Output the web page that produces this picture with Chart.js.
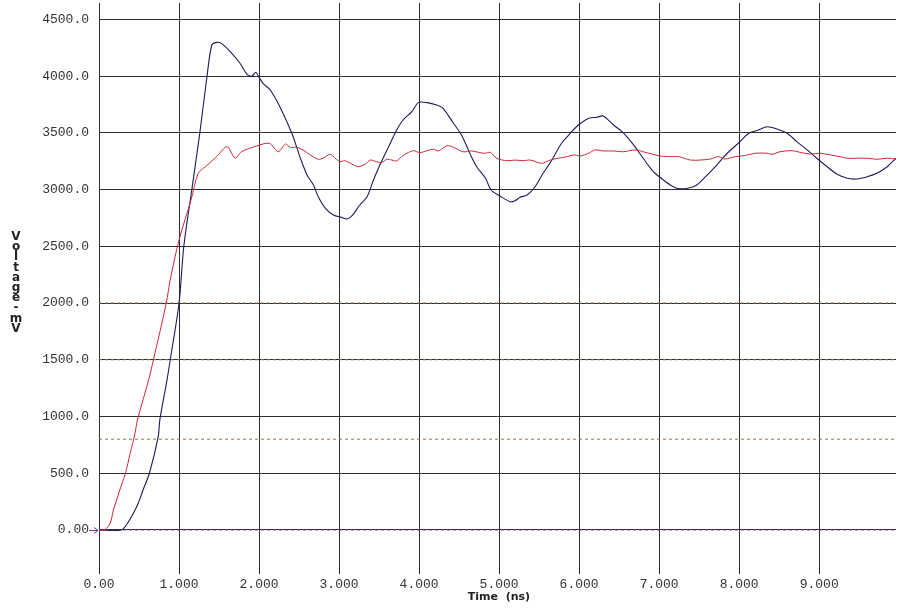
<!DOCTYPE html>
<html>
<head>
<meta charset="utf-8">
<script src="https://cdn.jsdelivr.net/npm/chart.js@4.4.1/dist/chart.umd.min.js"></script>
<style>
html,body{margin:0;padding:0;background:#fff;}
#wrap{position:relative;width:901px;height:608px;overflow:hidden;}
#c{position:absolute;left:0;top:0;}
#ytitle{position:absolute;left:9px;top:231px;width:14px;text-align:center;font-family:"DejaVu Sans",sans-serif;font-weight:bold;font-size:12px;line-height:10.2px;color:#222;}
#xtitle{position:absolute;left:399px;top:590px;width:200px;text-align:center;font-family:"DejaVu Sans",sans-serif;font-weight:bold;font-size:11px;color:#222;white-space:pre;}
</style>
</head>
<body>
<div id="wrap">
<canvas id="c" width="901" height="608"></canvas>
<div id="ytitle">V<br>o<br>l<br>t<br>a<br>g<br>e<br>-<br>m<br>V</div>
<div id="xtitle">Time  (ns)</div>
</div>
<script>
// ---- data (time in ns, voltage in mV) ----
const blueTime = [0, 0.28, 0.35, 0.43, 0.49, 0.55, 0.63, 0.74, 0.76, 0.85, 0.89, 1.00, 1.06, 1.16, 1.26, 1.35, 1.41, 1.47, 1.53, 1.64, 1.76, 1.85, 1.91, 1.96, 2.00, 2.05, 2.14, 2.26, 2.41, 2.51, 2.60, 2.68, 2.74, 2.83, 2.93, 3.03, 3.10, 3.16, 3.26, 3.35, 3.43, 3.51, 3.64, 3.72, 3.80, 3.91, 3.99, 4.10, 4.22, 4.30, 4.43, 4.53, 4.64, 4.72, 4.83, 4.90, 5.01, 5.14, 5.20, 5.26, 5.35, 5.45, 5.55, 5.66, 5.78, 5.89, 5.99, 6.12, 6.22, 6.30, 6.43, 6.55, 6.68, 6.80, 6.91, 7.01, 7.14, 7.24, 7.37, 7.47, 7.60, 7.72, 7.85, 7.99, 8.12, 8.24, 8.35, 8.47, 8.60, 8.72, 8.85, 8.97, 9.10, 9.22, 9.35, 9.47, 9.60, 9.72, 9.85, 9.96];
const blueVoltage = [0, 0, 53, 147, 235, 352, 500, 822, 969, 1322, 1498, 1998, 2500, 3000, 3500, 4000, 4274, 4297, 4288, 4215, 4115, 4015, 4000, 4033, 3989, 3936, 3877, 3730, 3496, 3290, 3128, 3040, 2937, 2835, 2776, 2755, 2741, 2767, 2864, 2937, 3084, 3216, 3408, 3525, 3613, 3686, 3766, 3766, 3745, 3716, 3584, 3481, 3310, 3201, 3099, 2996, 2943, 2893, 2902, 2932, 2952, 3025, 3143, 3260, 3408, 3496, 3569, 3628, 3637, 3648, 3569, 3501, 3393, 3276, 3172, 3108, 3040, 3008, 3014, 3040, 3128, 3216, 3320, 3408, 3496, 3525, 3554, 3534, 3496, 3422, 3349, 3276, 3201, 3137, 3099, 3093, 3113, 3143, 3201, 3276];

const redTime = [0, 0.07, 0.14, 0.18, 0.22, 0.26, 0.33, 0.39, 0.45, 0.48, 0.62, 0.68, 0.84, 0.89, 1.00, 1.15, 1.24, 1.33, 1.47, 1.60, 1.70, 1.78, 1.97, 2.13, 2.24, 2.33, 2.39, 2.47, 2.55, 2.64, 2.74, 2.80, 2.89, 2.95, 3.01, 3.07, 3.16, 3.24, 3.33, 3.39, 3.47, 3.53, 3.60, 3.66, 3.72, 3.78, 3.85, 3.93, 4.01, 4.10, 4.18, 4.24, 4.35, 4.43, 4.55, 4.66, 4.76, 4.83, 4.89, 4.97, 5.10, 5.20, 5.30, 5.39, 5.53, 5.64, 5.74, 5.85, 5.93, 6.01, 6.12, 6.20, 6.30, 6.43, 6.55, 6.70, 6.80, 6.91, 7.01, 7.14, 7.24, 7.39, 7.51, 7.64, 7.74, 7.82, 7.95, 8.07, 8.20, 8.35, 8.41, 8.51, 8.66, 8.76, 8.89, 9.01, 9.14, 9.26, 9.35, 9.47, 9.60, 9.72, 9.85, 9.96];
const redVoltage = [0, 0, 60, 176, 264, 352, 500, 676, 852, 969, 1322, 1498, 1998, 2203, 2555, 2908, 3143, 3201, 3290, 3378, 3278, 3333, 3384, 3407, 3333, 3401, 3372, 3372, 3349, 3305, 3267, 3276, 3311, 3276, 3245, 3254, 3225, 3201, 3225, 3260, 3245, 3236, 3267, 3260, 3252, 3290, 3320, 3343, 3325, 3343, 3355, 3340, 3387, 3372, 3333, 3340, 3325, 3320, 3328, 3276, 3254, 3260, 3254, 3260, 3231, 3260, 3276, 3290, 3305, 3296, 3320, 3349, 3340, 3340, 3333, 3349, 3333, 3313, 3296, 3290, 3290, 3260, 3260, 3269, 3290, 3269, 3290, 3299, 3320, 3320, 3311, 3333, 3343, 3328, 3313, 3320, 3305, 3290, 3276, 3276, 3276, 3267, 3276, 3269];

// reference (dashed) levels in mV
const dashLevels = [800, 1500, 2000];
const zeroLevel = [0];

// axis ticks
const xTickValues = [0, 1, 2, 3, 4, 5, 6, 7, 8, 9];
const xTickLabels = ["0.00", "1.000", "2.000", "3.000", "4.000", "5.000", "6.000", "7.000", "8.000", "9.000"];
const yTickValues = [0, 500, 1000, 1500, 2000, 2500, 3000, 3500, 4000, 4500];
const yTickLabels = ["0.00", "500.0", "1000.0", "1500.0", "2000.0", "2500.0", "3000.0", "3500.0", "4000.0", "4500.0"];
const xMin = 0, xMax = 9.96;
const yMin = -388, yMax = 4644;

const toXY = (xs, ys) => xs.map((x, i) => ({x: x, y: ys[i]}));
const levelLine = (v) => [{x: xMin, y: v}, {x: xMax, y: v}];

const datasets = [
  {data: toXY(redTime, redVoltage), borderColor: '#cc2a35', borderWidth: 1, pointRadius: 0, tension: 0.3, fill: false},
  {data: toXY(blueTime, blueVoltage), borderColor: '#1c1c5e', borderWidth: 1.1, pointRadius: 0, tension: 0.3, fill: false}
];
dashLevels.forEach(v => datasets.push({data: levelLine(v), borderColor: '#8c7b3c', borderWidth: 1, borderDash: [3, 3], pointRadius: 0, fill: false}));
zeroLevel.forEach(v => datasets.push({data: levelLine(v), borderColor: '#7a3a86', borderWidth: 1, borderDash: [3, 3], pointRadius: 0, fill: false}));

const zeroArrow = {
  id: 'zeroArrow',
  afterDraw(chart) {
    const {ctx, chartArea, scales} = chart;
    const py = Math.round(scales.y.getPixelForValue(0)) + 0.5;
    const x1 = chartArea.left;
    ctx.save();
    ctx.strokeStyle = '#7a3a86';
    ctx.lineWidth = 1;
    ctx.beginPath();
    ctx.moveTo(x1 - 10, py); ctx.lineTo(x1 - 1, py);
    ctx.moveTo(x1 - 5, py - 3); ctx.lineTo(x1 - 1, py); ctx.lineTo(x1 - 5, py + 3);
    ctx.stroke();
    ctx.restore();
  }
};

const tickFont = {family: '"Liberation Mono", monospace', size: 13};

new Chart(document.getElementById('c'), {
  type: 'line',
  data: {datasets: datasets},
  plugins: [zeroArrow],
  options: {
    responsive: false,
    animation: false,
    devicePixelRatio: 1,
    layout: {padding: {top: 3, right: 5, left: 0, bottom: 0}},
    plugins: {legend: {display: false}, tooltip: {enabled: false}},
    scales: {
      x: {
        type: 'linear', min: xMin, max: xMax,
        afterBuildTicks: s => { s.ticks = xTickValues.map(v => ({value: v})); },
        afterFit: s => { s.height = 34; s.paddingLeft = 0; s.paddingRight = 0; },
        grid: {color: '#2e2e2e', lineWidth: 1, drawTicks: false},
        border: {display: false},
        ticks: {font: tickFont, color: '#333', padding: 3, maxRotation: 0, autoSkip: false,
                callback: (v, i) => xTickLabels[i]}
      },
      y: {
        type: 'linear', min: yMin, max: yMax,
        afterBuildTicks: s => { s.ticks = yTickValues.map(v => ({value: v})); },
        afterFit: s => { s.width = 99; s.paddingTop = 0; s.paddingBottom = 0; },
        grid: {color: '#2e2e2e', lineWidth: 1, drawTicks: false},
        border: {display: false},
        ticks: {font: tickFont, color: '#333', padding: 10, autoSkip: false,
                callback: (v, i) => yTickLabels[i]}
      }
    }
  }
});
</script>
</body>
</html>
